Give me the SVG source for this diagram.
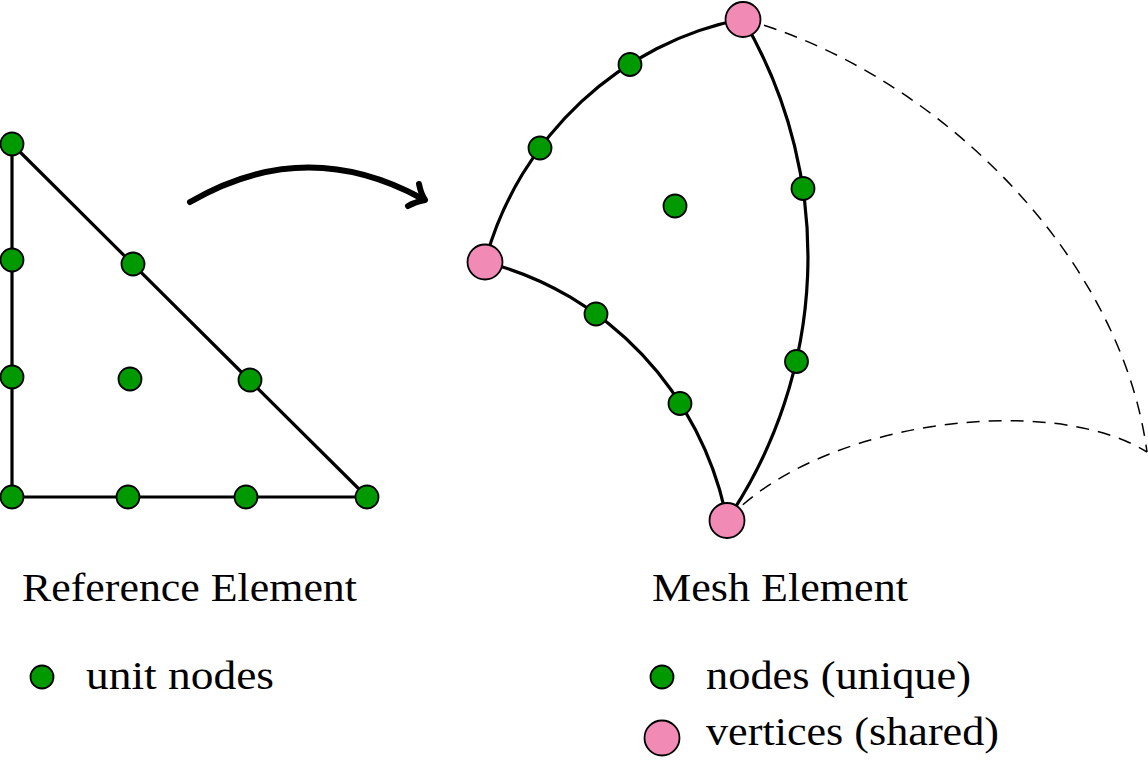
<svg xmlns="http://www.w3.org/2000/svg" width="1148" height="769" viewBox="0 0 1148 769">
<style>
.edge{fill:none;stroke:#000;stroke-width:3.2;stroke-linejoin:round}
.dash{fill:none;stroke:#000;stroke-width:1.5;stroke-dasharray:13 9}
.node{fill:#009900;stroke:#000;stroke-width:1.8}
.vert{fill:#f28ab6;stroke:#000;stroke-width:1.8}
.arrow{fill:none;stroke:#000;stroke-width:6;stroke-linecap:round;stroke-linejoin:round}
</style>
<rect width="1148" height="769" fill="#fff"/>
<g id="connectors">
  <path class="edge" d="M12,144 L12,497 L367,497 Z"/>
  <path class="dash" d="M743,19 C930,70 1120,250 1147,452"/>
  <path class="dash" d="M727,520 C820,420 1050,392 1147,452"/>
  <path class="edge" d="M743,19 C622.5,41.5 518.5,136 485,262"/>
  <path class="edge" d="M743,19 C838.2,181.5 825.3,375.5 727,520"/>
  <path class="edge" d="M485,262 C606.2,292.5 701.8,392 727,520"/>
  <path class="arrow" d="M190,202 Q305,135 421,198"/>
  <path class="arrow" d="M419,184 Q421,194 425,200 Q415,202 408,206"/>
</g>
<g id="ref-nodes">
  <circle class="node" cx="12" cy="144" r="11.5"/>
  <circle class="node" cx="12" cy="260" r="11.5"/>
  <circle class="node" cx="12" cy="377" r="11.5"/>
  <circle class="node" cx="12" cy="497" r="11.5"/>
  <circle class="node" cx="128" cy="497" r="11.5"/>
  <circle class="node" cx="246" cy="497" r="11.5"/>
  <circle class="node" cx="367" cy="497" r="11.5"/>
  <circle class="node" cx="133" cy="264" r="11.5"/>
  <circle class="node" cx="250" cy="380" r="11.5"/>
  <circle class="node" cx="130" cy="379" r="11.5"/>
</g>
<g id="mesh-nodes">
  <circle class="node" cx="630" cy="64.5" r="11.5"/>
  <circle class="node" cx="540" cy="148" r="11.5"/>
  <circle class="node" cx="803" cy="188.5" r="11.5"/>
  <circle class="node" cx="675" cy="206" r="11.5"/>
  <circle class="node" cx="596" cy="314" r="11.5"/>
  <circle class="node" cx="680" cy="403.5" r="11.5"/>
  <circle class="node" cx="796.5" cy="361.5" r="11.5"/>
</g>
<g id="mesh-vertices">
  <circle class="vert" cx="743" cy="19.5" r="17.5"/>
  <circle class="vert" cx="485" cy="262" r="17.5"/>
  <circle class="vert" cx="727" cy="520.5" r="17.5"/>
</g>
<g id="labels" font-family="Liberation Serif, serif" font-size="39" fill="#000">
  <text x="22" y="601" textLength="335" lengthAdjust="spacingAndGlyphs">Reference Element</text>
  <text x="652" y="601" textLength="256" lengthAdjust="spacingAndGlyphs">Mesh Element</text>
</g>
<g id="legend-ref" font-family="Liberation Serif, serif" font-size="39" fill="#000">
  <circle class="node" cx="42" cy="677" r="11.5"/>
  <text x="86" y="689" textLength="188" lengthAdjust="spacingAndGlyphs">unit nodes</text>
</g>
<g id="legend-mesh" font-family="Liberation Serif, serif" font-size="39" fill="#000">
  <circle class="node" cx="662" cy="677" r="11.5"/>
  <text x="706" y="689" textLength="265" lengthAdjust="spacingAndGlyphs">nodes (unique)</text>
  <circle class="vert" cx="662" cy="738" r="17.5"/>
  <text x="706" y="745" textLength="293" lengthAdjust="spacingAndGlyphs">vertices (shared)</text>
</g>
</svg>
